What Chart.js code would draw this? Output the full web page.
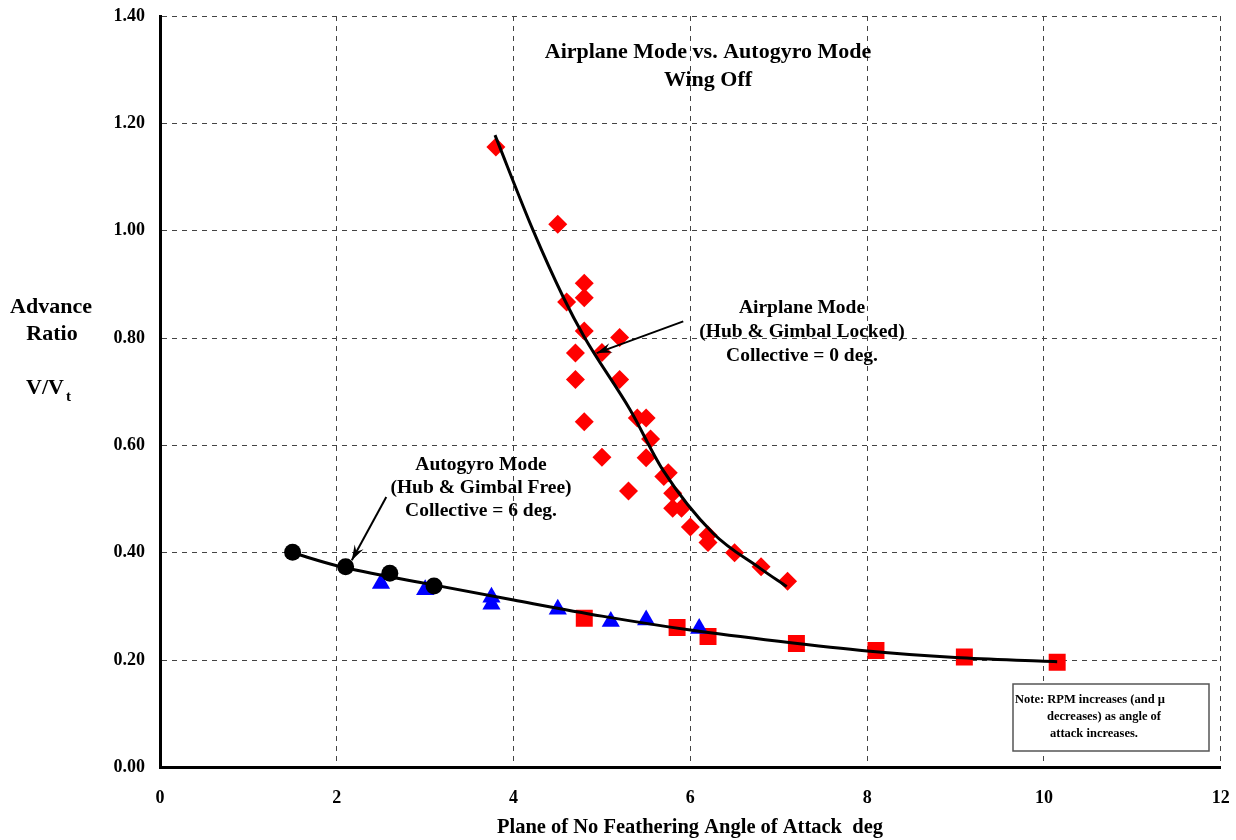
<!DOCTYPE html>
<html>
<head>
<meta charset="utf-8">
<style>
  html, body { margin: 0; padding: 0; background: #fff; }
  #chart { display: block; }
</style>
<script src="https://cdn.jsdelivr.net/npm/chart.js"></script>
</head>
<body>
<canvas id="chart" width="1236" height="840"></canvas>
<script>
// Airplane mode (hub & gimbal locked) - red diamonds
const airplaneX = [3.8, 4.5, 4.8, 4.8, 4.6, 4.8, 5.2, 5.0, 4.7, 4.7, 5.2, 4.8, 5.4, 5.5, 5.55,
  5.0, 5.5, 5.75, 5.7, 5.3, 5.8, 5.8, 5.9, 6.0, 6.2, 6.2, 6.5, 6.8, 7.1];
const airplaneY = [1.156, 1.012, 0.902, 0.875, 0.867, 0.813, 0.801, 0.773, 0.772, 0.723, 0.723, 0.644, 0.651, 0.651, 0.612,
  0.578, 0.577, 0.549, 0.542, 0.515, 0.511, 0.483, 0.483, 0.448, 0.433, 0.419, 0.400, 0.374, 0.347];

// Autogyro mode - black circles, blue triangles, red squares
const circleX = [1.5, 2.1, 2.6, 3.1];
const circleY = [0.401, 0.374, 0.362, 0.338];
const triangleX = [2.5, 3.0, 3.75, 3.75, 4.5, 5.1, 5.5, 6.1];
const triangleY = [0.343, 0.331, 0.317, 0.304, 0.295, 0.272, 0.275, 0.259];
const squareX = [4.8, 5.85, 6.2, 7.2, 8.1, 9.1, 10.15];
const squareY = [0.278, 0.261, 0.244, 0.231, 0.218, 0.206, 0.196];

// trend curves
const airplaneFitX = [3.79, 4.22, 4.56, 4.80, 5.32, 5.69, 6.26, 6.79, 7.09];
const airplaneFitY = [1.178, 1.001, 0.877, 0.802, 0.666, 0.554, 0.436, 0.371, 0.337];
const autogyroFitX = [1.5, 2.0, 3.0, 4.0, 5.0, 6.0, 7.0, 8.0, 9.0, 10.0, 10.15];
const autogyroFitY = [0.400, 0.376, 0.343, 0.312, 0.282, 0.256, 0.235, 0.217, 0.205, 0.198, 0.197];

const xTicks = [0, 2, 4, 6, 8, 10, 12];
const yTicks = [0, 0.2, 0.4, 0.6, 0.8, 1.0, 1.2, 1.4];

const titleLines = ['Airplane Mode vs. Autogyro Mode', 'Wing Off'];
const airplaneNote = ['Airplane Mode', '(Hub & Gimbal Locked)', 'Collective = 0 deg.'];
const autogyroNote = ['Autogyro Mode', '(Hub & Gimbal Free)', 'Collective = 6 deg.'];
const boxNote = ['Note: RPM increases (and \u00b5', 'decreases) as angle of', 'attack increases.'];
const xTitle = 'Plane of No Feathering Angle of Attack  deg';

const SERIF = '"Liberation Serif", "Times New Roman", serif';

function pts(xs, ys) {
  return xs.map((x, i) => ({ x: x, y: ys[i] }));
}

function drawArrow(ctx, x1, y1, x2, y2) {
  ctx.save();
  ctx.strokeStyle = '#000';
  ctx.fillStyle = '#000';
  ctx.lineWidth = 2;
  ctx.beginPath();
  ctx.moveTo(x1, y1);
  ctx.lineTo(x2, y2);
  ctx.stroke();
  const a = Math.atan2(y2 - y1, x2 - x1);
  const len = 16, spread = 0.32;
  ctx.beginPath();
  ctx.moveTo(x2, y2);
  ctx.lineTo(x2 - len * Math.cos(a - spread), y2 - len * Math.sin(a - spread));
  ctx.lineTo(x2 - len * 0.6 * Math.cos(a), y2 - len * 0.6 * Math.sin(a));
  ctx.lineTo(x2 - len * Math.cos(a + spread), y2 - len * Math.sin(a + spread));
  ctx.closePath();
  ctx.fill();
  ctx.restore();
}

const annotations = {
  id: 'annotations',
  afterDraw(chart) {
    const ctx = chart.ctx;
    const xs = chart.scales.x, ys = chart.scales.y;
    const px = v => xs.getPixelForValue(v);
    const py = v => ys.getPixelForValue(v);
    ctx.save();
    ctx.fillStyle = '#000';
    ctx.textAlign = 'center';
    ctx.textBaseline = 'middle';

    // title
    ctx.font = 'bold 22px ' + SERIF;
    ctx.fillText(titleLines[0], 708, 52);
    ctx.fillText(titleLines[1], 708, 80);

    // mode labels
    ctx.font = 'bold 19.5px ' + SERIF;
    airplaneNote.forEach((t, i) => ctx.fillText(t, 802, 308 + i * 24));
    autogyroNote.forEach((t, i) => ctx.fillText(t, 481, 465 + i * 23));

    drawArrow(ctx, px(5.92), py(0.831), px(4.94), py(0.772));
    drawArrow(ctx, px(2.56), py(0.504), px(2.17), py(0.386));

    // note box
    ctx.fillStyle = '#fff';
    ctx.strokeStyle = '#555';
    ctx.lineWidth = 1.5;
    ctx.fillRect(1013, 684, 196, 67);
    ctx.strokeRect(1013, 684, 196, 67);
    ctx.fillStyle = '#000';
    ctx.textAlign = 'left';
    ctx.font = 'bold 12.5px ' + SERIF;
    ctx.fillText(boxNote[0], 1015, 700);
    ctx.fillText(boxNote[1], 1047, 717);
    ctx.fillText(boxNote[2], 1050, 734);

    // y axis title
    ctx.textAlign = 'center';
    ctx.font = 'bold 22px ' + SERIF;
    ctx.fillText('Advance', 51, 307);
    ctx.fillText('Ratio', 52, 334);
    ctx.textAlign = 'left';
    ctx.fillText('V/V', 26, 388);
    ctx.font = 'bold 15px ' + SERIF;
    ctx.fillText('t', 66, 397);

    // x axis title
    ctx.textAlign = 'center';
    ctx.font = 'bold 20.5px ' + SERIF;
    ctx.fillText(xTitle, 690, 828);
    ctx.restore();
  }
};

function noPad(s) {
  s.paddingLeft = 0;
  s.paddingRight = 0;
  s.paddingTop = 0;
  s.paddingBottom = 0;
}

const gridStyle = {
  color: '#444',
  lineWidth: 1,
  drawTicks: false
};

new Chart(document.getElementById('chart').getContext('2d'), {
  type: 'scatter',
  data: {
    datasets: [
      {
        label: 'Airplane fit',
        data: pts(airplaneFitX, airplaneFitY),
        showLine: true,
        borderColor: '#000',
        borderWidth: 3,
        pointRadius: 0,
        cubicInterpolationMode: 'monotone',
        order: 0
      },
      {
        label: 'Autogyro fit',
        data: pts(autogyroFitX, autogyroFitY),
        showLine: true,
        borderColor: '#000',
        borderWidth: 3,
        pointRadius: 0,
        cubicInterpolationMode: 'monotone',
        order: 0
      },
      {
        label: 'Airplane Mode',
        data: pts(airplaneX, airplaneY),
        pointStyle: 'rectRot',
        pointRadius: 9.5,
        backgroundColor: '#ff0000',
        borderColor: '#ff0000',
        borderWidth: 0,
        order: 1
      },
      {
        label: 'Autogyro circles',
        data: pts(circleX, circleY),
        pointStyle: 'circle',
        pointRadius: 8.5,
        backgroundColor: '#000',
        borderColor: '#000',
        borderWidth: 0,
        order: 1
      },
      {
        label: 'Autogyro triangles',
        data: pts(triangleX, triangleY),
        pointStyle: 'triangle',
        pointRadius: 10.5,
        backgroundColor: '#0000ff',
        borderColor: '#0000ff',
        borderWidth: 0,
        order: 1
      },
      {
        label: 'Autogyro squares',
        data: pts(squareX, squareY),
        pointStyle: 'rect',
        pointRadius: 12,
        backgroundColor: '#ff0000',
        borderColor: '#ff0000',
        borderWidth: 0,
        order: 1
      }
    ]
  },
  options: {
    responsive: false,
    animation: false,
    layout: { padding: { left: 0, right: 15.3, top: 16, bottom: 0 } },
    plugins: {
      legend: { display: false },
      tooltip: { enabled: false }
    },
    scales: {
      x: {
        type: 'linear',
        min: 0,
        max: 12,
        afterBuildTicks: (s) => { s.ticks = xTicks.map(v => ({ value: v })); },
        afterFit: (s) => { s.height = 72.5; noPad(s); },
        ticks: {
          padding: 20,
          color: '#000',
          font: { family: SERIF, size: 18, weight: 'bold' },
          callback: (v) => String(v)
        },
        grid: gridStyle,
        border: { display: true, color: '#000', width: 3, dash: [5, 5] }
      },
      y: {
        type: 'linear',
        min: 0,
        max: 1.4,
        afterBuildTicks: (s) => { s.ticks = yTicks.map(v => ({ value: v })); },
        afterFit: (s) => { s.width = 160; noPad(s); },
        ticks: {
          padding: 15,
          color: '#000',
          font: { family: SERIF, size: 18, weight: 'bold' },
          callback: (v) => Number(v).toFixed(2)
        },
        grid: gridStyle,
        border: { display: true, color: '#000', width: 3, dash: [5, 5] }
      }
    }
  },
  plugins: [annotations]
});
</script>
</body>
</html>
